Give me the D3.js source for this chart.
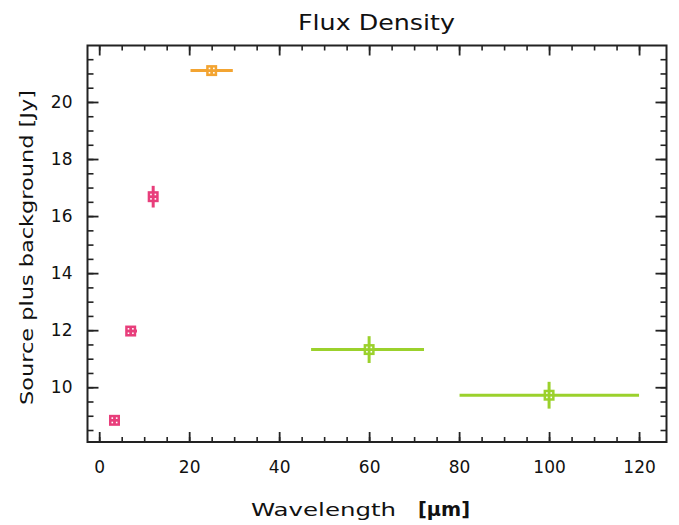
<!DOCTYPE html>
<html>
<head>
<meta charset="utf-8">
<script src="https://cdn.jsdelivr.net/npm/d3@7"></script>
<style>
  html, body { margin: 0; padding: 0; background: #fff; }
  svg { display: block; }
  text { font-family: "DejaVu Sans", "Liberation Sans", sans-serif; fill: #111; }
</style>
</head>
<body>
<svg id="chart" width="679" height="525"></svg>
<script>
// Photometry: band centre wavelength [µm], band edges, flux and flux error [Jy]
const wavelength = [3.4, 7.0, 12.0, 25.0, 60.0, 100.0];
const bandLo     = [3.4, 6.0, 12.0, 20.3, 47.1, 80.1];
const bandHi     = [3.4, 8.4, 12.0, 29.7, 72.2, 120.0];
const flux       = [8.84, 11.97, 16.68, 21.10, 11.32, 9.72];
const fluxErr    = [0.10, 0.10, 0.38, 0.10, 0.47, 0.47];
const pointColor = ["#e83e7b", "#e83e7b", "#e83e7b", "#f3a431", "#9bd12c", "#9bd12c"];

const xMajorTicks = [0, 20, 40, 60, 80, 100, 120];
const yMajorTicks = [10, 12, 14, 16, 18, 20];

const svg = d3.select("#chart");
const frame = { left: 87.5, right: 666.5, top: 45.5, bottom: 442 };

const x = d3.scaleLinear().domain([-2.6, 126.1]).range([frame.left, frame.right]);
const y = d3.scaleLinear().domain([8.08, 21.98]).range([frame.bottom, frame.top]);

const axisColor = "#222";

function styleAxis(g, width) {
  g.select(".domain").remove();
  g.selectAll(".tick line").attr("stroke", axisColor).attr("stroke-width", width);
  g.selectAll(".tick text").style("font-size", "17px").attr("fill", "#111");
}

// bottom axis: minor then major ticks, pointing inward
svg.append("g").attr("transform", `translate(0,${frame.bottom})`)
  .call(d3.axisBottom(x).tickValues(d3.range(0, 121, 5)).tickSize(-5).tickFormat(""))
  .call(g => styleAxis(g, 1.6));
svg.append("g").attr("transform", `translate(0,${frame.bottom})`)
  .call(d3.axisBottom(x).tickValues(xMajorTicks).tickSize(-10).tickPadding(19).tickFormat(d3.format("d")))
  .call(g => styleAxis(g, 1.8));

// top axis mirrors the bottom one without labels
svg.append("g").attr("transform", `translate(0,${frame.top})`)
  .call(d3.axisTop(x).tickValues(d3.range(0, 121, 5)).tickSize(-5).tickFormat(""))
  .call(g => styleAxis(g, 1.6));
svg.append("g").attr("transform", `translate(0,${frame.top})`)
  .call(d3.axisTop(x).tickValues(xMajorTicks).tickSize(-10).tickFormat(""))
  .call(g => styleAxis(g, 1.8));

// left axis
svg.append("g").attr("transform", `translate(${frame.left},0)`)
  .call(d3.axisLeft(y).tickValues(d3.range(8.5, 21.99, 0.5)).tickSize(-6).tickFormat(""))
  .call(g => styleAxis(g, 1.6));
svg.append("g").attr("transform", `translate(${frame.left},0)`)
  .call(d3.axisLeft(y).tickValues(yMajorTicks).tickSize(-11).tickPadding(15).tickFormat(d3.format("d")))
  .call(g => styleAxis(g, 1.8));

// right axis mirrors the left one
svg.append("g").attr("transform", `translate(${frame.right},0)`)
  .call(d3.axisRight(y).tickValues(d3.range(8.5, 21.99, 0.5)).tickSize(-6).tickFormat(""))
  .call(g => styleAxis(g, 1.6));
svg.append("g").attr("transform", `translate(${frame.right},0)`)
  .call(d3.axisRight(y).tickValues(yMajorTicks).tickSize(-11).tickFormat(""))
  .call(g => styleAxis(g, 1.8));

// plot frame
svg.append("rect")
  .attr("x", frame.left).attr("y", frame.top)
  .attr("width", frame.right - frame.left).attr("height", frame.bottom - frame.top)
  .attr("fill", "none").attr("stroke", axisColor).attr("stroke-width", 2);

const pts = wavelength.map((w, i) => ({
  w, lo: bandLo[i], hi: bandHi[i], f: flux[i], e: fluxErr[i], c: pointColor[i]
}));

const marks = svg.append("g");

// horizontal bars: band width
marks.selectAll("line.band").data(pts).join("line").attr("class", "band")
  .attr("x1", d => x(d.lo)).attr("x2", d => x(d.hi))
  .attr("y1", d => y(d.f)).attr("y2", d => y(d.f))
  .attr("stroke", d => d.c).attr("stroke-width", 3);

// vertical bars: flux error
marks.selectAll("line.err").data(pts).join("line").attr("class", "err")
  .attr("x1", d => x(d.w)).attr("x2", d => x(d.w))
  .attr("y1", d => y(d.f - d.e)).attr("y2", d => y(d.f + d.e))
  .attr("stroke", d => d.c).attr("stroke-width", 3);

// square symbols with a dotted centre
const S = 11;
const sym = marks.selectAll("g.sym").data(pts).join("g").attr("class", "sym")
  .attr("transform", d => `translate(${x(d.w)},${y(d.f)})`);
sym.append("rect")
  .attr("x", -S / 2).attr("y", -S / 2).attr("width", S).attr("height", S)
  .attr("fill", d => d.c);
[[-2.2, -2.2], [2.2, -2.2], [-2.2, 2.2], [2.2, 2.2]].forEach(([dx, dy]) => {
  sym.append("rect")
    .attr("x", dx - 0.8).attr("y", dy - 0.8).attr("width", 1.6).attr("height", 1.6)
    .attr("fill", "#fff");
});

// titles, stretched to the width of the plot's stroke font
svg.append("text")
  .attr("x", 298).attr("y", 30)
  .attr("textLength", 157).attr("lengthAdjust", "spacingAndGlyphs")
  .style("font-size", "21px")
  .text("Flux Density");

svg.append("text")
  .attr("x", 251).attr("y", 516)
  .attr("textLength", 145).attr("lengthAdjust", "spacingAndGlyphs")
  .style("font-size", "18px")
  .text("Wavelength");
svg.append("text")
  .attr("x", 418).attr("y", 516)
  .attr("textLength", 52).attr("lengthAdjust", "spacingAndGlyphs")
  .style("font-size", "19px").style("font-weight", "bold")
  .text("[µm]");

svg.append("text")
  .attr("transform", "translate(33,405) rotate(-90)")
  .attr("textLength", 315).attr("lengthAdjust", "spacingAndGlyphs")
  .style("font-size", "18px")
  .text("Source plus background [Jy]");
</script>
</body>
</html>
